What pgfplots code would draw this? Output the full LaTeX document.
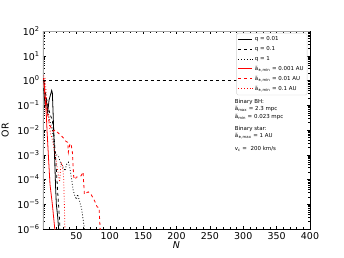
\documentclass[border=0pt]{standalone}
\usepackage{fontspec}
\setmainfont{DejaVu Sans}
\usepackage{pgfplots}
\pgfplotsset{compat=1.18}
\begin{document}
\fontsize{9.5}{11}\selectfont
\begin{tikzpicture}
\begin{axis}[
  scale only axis, width=267bp, height=198bp,
  at={(0,0)}, anchor=south west,
  xmin=0, xmax=400, ymin=1e-6, ymax=1e2, ymode=log,
  xtick={50,100,...,400},
  minor xtick={0,10,...,400},
  ytick={1e-6,1e-5,1e-4,1e-3,1e-2,1e-1,1,10,100},
  yticklabels={10\textsuperscript{−6},10\textsuperscript{−5},10\textsuperscript{−4},10\textsuperscript{−3},10\textsuperscript{−2},10\textsuperscript{−1},10\textsuperscript{0},10\textsuperscript{1},10\textsuperscript{2}},
  /pgf/number format/assume math mode=true,
  tick align=inside,
  major tick length=3.5bp, minor tick length=2bp,
  every tick/.style={black, thin},
  ticklabel style={font=\fontsize{9.5}{11}\selectfont},
  xlabel={\textit{N}}, ylabel={OR},
  xlabel style={font=\fontsize{9.5}{11}\selectfont, yshift=4bp},
  ylabel style={font=\fontsize{9.5}{11}\selectfont, yshift=2bp},
  axis line style={black, thin},
  legend style={at={(0.99,0.99)}, anchor=north east, font=\fontsize{5.5}{6.5}\selectfont,
    draw=gray!35, rounded corners=1.5bp, cells={anchor=west}, row sep=0.3bp,
    inner sep=1.5bp},
  legend image code/.code={\draw[#1] plot coordinates {(0bp,0bp) (14bp,0bp)};},
]
\draw[gray!70, line width=1.1pt] (rel axis cs:0,0) -- (rel axis cs:0,1) -- (rel axis cs:1,1);

% q = 0.01
\addplot[black, line width=0.8pt] coordinates {
(1,0.5) (3,0.1) (5,0.1585) (7,0.05) (9,0.1585) (11,0.2512) (13,0.398) (14,0.316)
(15,0.0631) (16,0.01) (17,1.585e-3) (18,2.512e-4) (19,3.98e-5) (20,1e-5) (22,3.16e-6) (24,6.31e-7)};
\addlegendentry{q = 0.01}
% q = 0.1
\addplot[black, dashed, line width=0.8pt] coordinates {
(1,1) (3,0.398) (5,0.2) (8,0.0794) (11,0.0398) (14,0.02512) (16,7.94e-3) (18,1.585e-3)
(20,2.512e-4) (22,3.16e-5) (24,5.0e-6) (26,6.31e-7)};
\addlegendentry{q = 0.1}
% q = 1
\addplot[black, dotted, line width=0.8pt] coordinates {
(1,1.259) (3,0.316) (6,0.1) (10,0.02512) (14,0.01) (17,1.585e-3) (20,1e-3) (23,8.91e-4)
(26,5.0e-4) (30,3.16e-4) (33,2.24e-4) (35,3.98e-4) (38,5.0e-4) (40,3.16e-4) (43,1e-4)
(45,3.98e-5) (48,2.0e-5) (50,1.585e-5) (52,2.512e-5) (54,1.585e-5) (56,1e-5) (58,6.31e-6)
(60,2.512e-6) (63,6.31e-7)};
\addlegendentry{q = 1}
% a = 0.001 AU
\addplot[red, line width=0.8pt] coordinates {
(1,1.259) (3,0.2512) (5,0.0398) (6,0.01) (8,1e-3) (10.5,6.31e-5) (14,1e-5) (18,7.94e-7)};
\addlegendentry{ã\textsubscript{∗,min} = 0.001 AU}
% a = 0.01 AU
\addplot[red, dashed, line width=0.8pt] coordinates {
(1,1.259) (2,0.5) (4,0.1585) (6,0.0631) (8,0.0316) (10,0.01585) (12,0.01259) (15,8.91e-3)
(18,1e-2) (22,7.94e-3) (26,6.31e-3) (30,5.0e-3) (34,3.55e-3) (37,3.16e-3) (38,1.259e-3)
(40,2.512e-3) (42,2.82e-3) (44,1.259e-3) (46,1.259e-4) (48,1e-4) (50,1.259e-4) (54,1.259e-4)
(57,1.413e-4) (60,2.0e-4) (62,2.512e-5) (64,2.82e-5) (68,3.16e-5) (72,2.512e-5) (75,1.778e-5)
(78,1.259e-5) (81,7.94e-6) (84,7.08e-6) (86,6.31e-7)};
\addlegendentry{ã\textsubscript{∗,min} = 0.01 AU}
% a = 0.1 AU
\addplot[red, dotted, line width=0.8pt] coordinates {
(1,1.585) (3,1.259) (5,0.2512) (7,0.0631) (9,0.02) (11,7.94e-3) (14,3.98e-3) (17,1.585e-3)
(20,5.0e-4) (23,1.585e-4) (25,7.94e-5) (27,5.0e-4) (29,3.98e-4) (31,1e-4) (32,1e-5) (33,6.31e-7)};
\addlegendentry{ã\textsubscript{∗,min} = 0.1 AU}
% reference line OR = 1
\addplot[black, dashed, line width=0.8pt, forget plot] coordinates {(0,1) (400,1)};

\node[anchor=north west, align=left, font=\fontsize{5.5}{7.2}\selectfont, inner sep=0pt]
  at (rel axis cs:0.718,0.655) {Binary BH:\\
  ã\textsubscript{max} = 2.3 mpc\\
  ã\textsubscript{min} = 0.023 mpc\\[5bp]
  Binary star:\\
  ã\textsubscript{∗,max} = 1 AU\\[6bp]
  v\textsubscript{c} =\ \ 200 km/s};
\end{axis}
\pgfresetboundingbox
\path[use as bounding box] (-43bp,-29bp) rectangle (301bp,229bp);
\end{tikzpicture}
\end{document}
